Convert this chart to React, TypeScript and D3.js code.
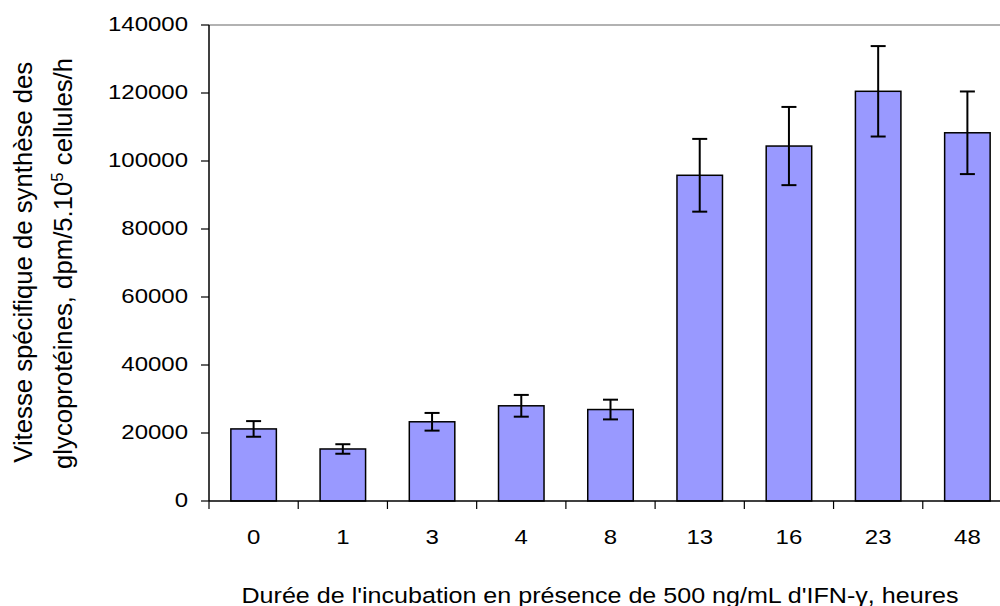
import React from "react";
import * as d3 from "d3";

const categories = ["0", "1", "3", "4", "8", "13", "16", "23", "48"];
const values = [21200, 15300, 23300, 28000, 26900, 95800, 104400, 120500, 108300];
const errors = [2300, 1400, 2600, 3200, 2900, 10700, 11500, 13300, 12150];
const yTicks = [0, 20000, 40000, 60000, 80000, 100000, 120000, 140000];

const W = 1000;
const H = 606;
const left = 209;
const right = 1012;
const top = 25;
const bottom = 501;
const SX = 1.17;
const FONT = "'Liberation Sans', Arial, Helvetica, sans-serif";

export default function App() {
  const x = d3.scaleBand<string>().domain(categories).range([left, right]).padding(0);
  const y = d3.scaleLinear().domain([0, 140000]).range([bottom, top]);
  const bw = x.bandwidth();
  const barW = bw * 0.51;
  const capW = 15;

  return (
    <div style={{ position: "absolute", left: 0, top: 0 }}>
      <svg width={W} height={H} style={{ display: "block", background: "#fff" }} fontFamily={FONT}>
        {/* plot area border */}
        <line x1={left} x2={right} y1={top} y2={top} stroke="#999" strokeWidth={1.5} />
        <line x1={right} x2={right} y1={top} y2={bottom} stroke="#999" strokeWidth={1.5} />

        {/* bars */}
        {categories.map((c, i) => {
          const cx = (x(c) as number) + bw / 2;
          return (
            <rect
              key={"b" + c}
              x={cx - barW / 2}
              y={y(values[i])}
              width={barW}
              height={y(0) - y(values[i])}
              fill="#9999FF"
              stroke="#000"
              strokeWidth={1.5}
            />
          );
        })}

        {/* error bars */}
        {categories.map((c, i) => {
          const cx = (x(c) as number) + bw / 2;
          const hi = y(values[i] + errors[i]);
          const lo = y(values[i] - errors[i]);
          return (
            <g key={"e" + c} stroke="#000" strokeWidth={2}>
              <line x1={cx} x2={cx} y1={hi} y2={lo} />
              <line x1={cx - capW / 2} x2={cx + capW / 2} y1={hi} y2={hi} />
              <line x1={cx - capW / 2} x2={cx + capW / 2} y1={lo} y2={lo} />
            </g>
          );
        })}

        {/* y axis */}
        <line x1={left} x2={left} y1={top} y2={bottom} stroke="#000" strokeWidth={1.5} />
        {yTicks.map((t) => (
          <g key={"yt" + t}>
            <line x1={left - 8} x2={left} y1={y(t)} y2={y(t)} stroke="#000" strokeWidth={1.2} />
            <text
              transform={`translate(${left - 21},${y(t) + 5.7}) scale(${SX},1)`}
              textAnchor="end"
              fontSize={20.5}
              fill="#000"
            >
              {d3.format("d")(t)}
            </text>
          </g>
        ))}

        {/* x axis */}
        <line x1={left} x2={right} y1={bottom} y2={bottom} stroke="#000" strokeWidth={1.5} />
        {categories.map((c) => (
          <line
            key={"xt" + c}
            x1={x(c) as number}
            x2={x(c) as number}
            y1={bottom}
            y2={bottom + 8}
            stroke="#000"
            strokeWidth={1.2}
          />
        ))}
        {categories.map((c) => (
          <text
            key={"xl" + c}
            transform={`translate(${(x(c) as number) + bw / 2},544) scale(${SX},1)`}
            textAnchor="middle"
            fontSize={20.5}
            fill="#000"
          >
            {c}
          </text>
        ))}

        {/* x title */}
        <text
          transform={`translate(600,602.5) scale(${SX},1)`}
          textAnchor="middle"
          fontSize={21.5}
          fill="#000"
          textLength={717 / SX}
          lengthAdjust="spacingAndGlyphs"
        >
          Durée de l'incubation en présence de 500 ng/mL d'IFN-γ, heures
        </text>

        {/* y title */}
        <text
          transform={`translate(31.7,262.3) scale(${SX},1) rotate(-90)`}
          textAnchor="middle"
          fontSize={21.5}
          fill="#000"
          textLength={401}
          lengthAdjust="spacingAndGlyphs"
        >
          Vitesse spécifique de synthèse des
        </text>
        <text
          transform={`translate(72,263.5) scale(${SX},1) rotate(-90)`}
          textAnchor="middle"
          fontSize={21.5}
          fill="#000"
          textLength={411}
          lengthAdjust="spacingAndGlyphs"
        >
          glycoprotéines, dpm/5.10
          <tspan fontSize={14} dy={-8}>5</tspan>
          <tspan dy={8}> cellules/h</tspan>
        </text>
      </svg>
    </div>
  );
}
